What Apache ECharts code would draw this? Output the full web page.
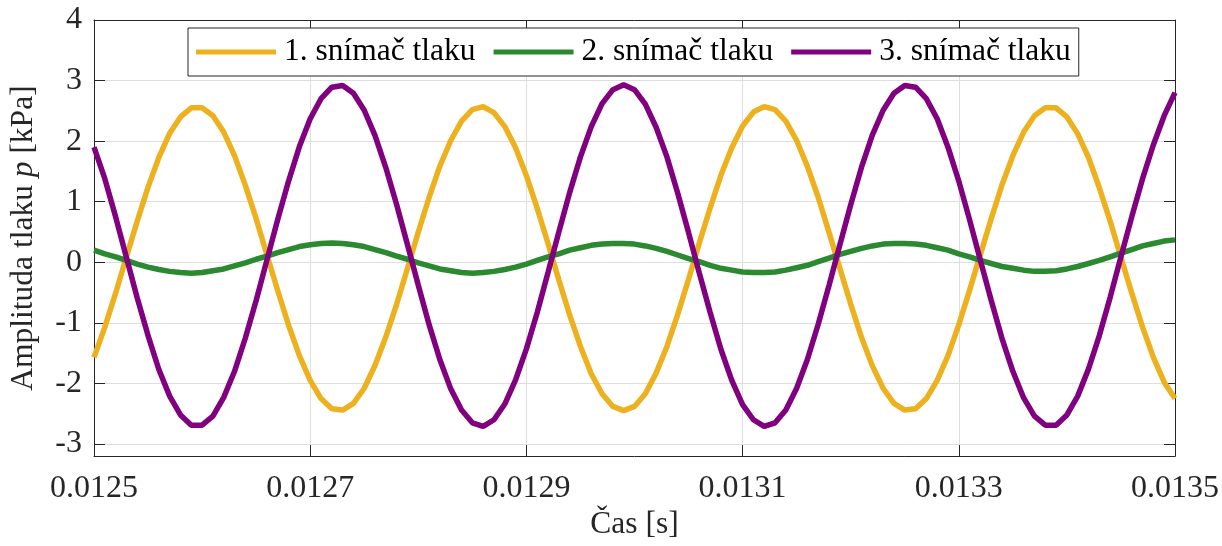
<!DOCTYPE html>
<html>
<head>
<meta charset="utf-8">
<script src="https://cdn.jsdelivr.net/npm/echarts@6/dist/echarts.min.js"></script>
<style>
html,body{margin:0;padding:0;background:#fff;}
#chart{width:1222px;height:546px;}
</style>
</head>
<body>
<div id="chart"></div>
<script>
const seriesNames = ['1. snímač tlaku', '2. snímač tlaku', '3. snímač tlaku'];
const xTickLabels = ['0.0125','0.0127','0.0129','0.0131','0.0133','0.0135'];
const yTickValues = [-3, -2, -1, 0, 1, 2, 3, 4];

const time = [
0.01250,0.01251,0.01252,0.01253,0.01254,0.01255,0.01256,0.01257,0.01258,0.01259,
0.01260,0.01261,0.01262,0.01263,0.01264,0.01265,0.01266,0.01267,0.01268,0.01269,
0.01270,0.01271,0.01272,0.01273,0.01274,0.01275,0.01276,0.01277,0.01278,0.01279,
0.01280,0.01281,0.01282,0.01283,0.01284,0.01285,0.01286,0.01287,0.01288,0.01289,
0.01290,0.01291,0.01292,0.01293,0.01294,0.01295,0.01296,0.01297,0.01298,0.01299,
0.01300,0.01301,0.01302,0.01303,0.01304,0.01305,0.01306,0.01307,0.01308,0.01309,
0.01310,0.01311,0.01312,0.01313,0.01314,0.01315,0.01316,0.01317,0.01318,0.01319,
0.01320,0.01321,0.01322,0.01323,0.01324,0.01325,0.01326,0.01327,0.01328,0.01329,
0.01330,0.01331,0.01332,0.01333,0.01334,0.01335,0.01336,0.01337,0.01338,0.01339,
0.01340,0.01341,0.01342,0.01343,0.01344,0.01345,0.01346,0.01347,0.01348,0.01349,
0.01350];

const sensor1 = [
-1.57,-1.07,-0.51,0.09,0.68,1.24,1.73,2.13,2.40,2.55,
2.55,2.42,2.15,1.76,1.27,0.72,0.12,-0.47,-1.04,-1.54,
-1.95,-2.25,-2.42,-2.44,-2.33,-2.08,-1.70,-1.23,-0.69,-0.10,
0.50,1.07,1.59,2.01,2.33,2.52,2.57,2.47,2.24,1.89,
1.43,0.89,0.31,-0.29,-0.87,-1.39,-1.84,-2.17,-2.38,-2.45,
-2.38,-2.17,-1.83,-1.39,-0.86,-0.28,0.32,0.90,1.44,1.89,
2.25,2.48,2.57,2.52,2.33,2.01,1.58,1.07,0.49,-0.10,
-0.69,-1.24,-1.71,-2.08,-2.33,-2.44,-2.42,-2.25,-1.95,-1.54,
-1.03,-0.46,0.13,0.72,1.28,1.76,2.15,2.42,2.55,2.55,
2.40,2.12,1.73,1.23,0.68,0.08,-0.51,-1.07,-1.57,-1.98,
-2.25];

const sensor2 = [
0.20,0.14,0.09,0.03,-0.03,-0.08,-0.12,-0.15,-0.17,-0.18,
-0.17,-0.14,-0.11,-0.06,-0.01,0.05,0.10,0.16,0.21,0.26,
0.29,0.31,0.32,0.31,0.29,0.26,0.21,0.16,0.10,0.05,
-0.01,-0.06,-0.11,-0.14,-0.17,-0.18,-0.17,-0.15,-0.12,-0.08,
-0.03,0.03,0.09,0.14,0.20,0.24,0.28,0.30,0.31,0.31,
0.30,0.27,0.23,0.18,0.12,0.06,0.01,-0.05,-0.10,-0.13,
-0.16,-0.17,-0.17,-0.16,-0.13,-0.09,-0.05,0.01,0.07,0.13,
0.18,0.23,0.27,0.30,0.31,0.31,0.30,0.28,0.24,0.20,
0.14,0.09,0.03,-0.02,-0.07,-0.10,-0.13,-0.15,-0.15,-0.14,
-0.11,-0.07,-0.02,0.03,0.09,0.15,0.21,0.27,0.31,0.35,
0.37];

const sensor3 = [
1.90,1.38,0.75,0.08,-0.59,-1.21,-1.77,-2.21,-2.52,-2.69,
-2.69,-2.54,-2.23,-1.80,-1.25,-0.63,0.04,0.71,1.34,1.91,
2.37,2.70,2.89,2.92,2.79,2.51,2.09,1.56,0.95,0.29,
-0.38,-1.03,-1.61,-2.09,-2.44,-2.65,-2.71,-2.60,-2.34,-1.94,
-1.43,-0.83,-0.17,0.50,1.15,1.74,2.24,2.62,2.85,2.93,
2.85,2.61,2.23,1.74,1.14,0.49,-0.18,-0.83,-1.44,-1.95,
-2.35,-2.60,-2.71,-2.65,-2.44,-2.08,-1.60,-1.02,-0.38,0.29,
0.95,1.57,2.10,2.51,2.79,2.92,2.89,2.70,2.37,1.90,
1.34,0.70,0.03,-0.63,-1.26,-1.80,-2.24,-2.54,-2.69,-2.69,
-2.52,-2.21,-1.76,-1.21,-0.58,0.09,0.75,1.38,1.94,2.42,
2.80];

const colors = ['#EDB120', '#2B8A30', '#800080'];
const FONT = '"Liberation Serif", "Times New Roman", serif';
const AX = '#262626';

function pairs(ys) { return ys.map((v, i) => [time[i], v]); }

const chart = echarts.init(document.getElementById('chart'), null, {renderer: 'canvas'});

const xCommon = {
  type: 'value', min: 0.0125, max: 0.0135, interval: 0.0002,
  axisLine: {show: true, onZero: false, lineStyle: {color: AX, width: 1}},
  axisTick: {show: true, inside: true, length: 11, lineStyle: {color: AX, width: 1}}
};
const yCommon = {
  type: 'value', min: -3.2, max: 4,
  axisLine: {show: true, onZero: false, lineStyle: {color: AX, width: 1}},
  axisTick: {show: true, inside: true, length: 11, customValues: yTickValues, lineStyle: {color: AX, width: 1}}
};

chart.setOption({
  animation: false,
  color: colors,
  textStyle: {fontFamily: FONT},
  grid: {left: 93, right: 45, top: 20, bottom: 87, containLabel: false},
  legend: {
    data: seriesNames,
    left: 188, top: 28,
    padding: [8, 8, 8, 8],
    itemGap: 18,
    itemWidth: 80, itemHeight: 5,
    icon: 'rect',
    borderColor: AX, borderWidth: 1,
    backgroundColor: '#fff',
    textStyle: {fontFamily: FONT, fontSize: 31.5, color: '#000', padding: [0, 0, 0, 3]}
  },
  xAxis: [
    Object.assign({}, xCommon, {
      position: 'bottom',
      name: 'Čas [s]', nameLocation: 'middle', nameGap: 42,
      nameTextStyle: {fontFamily: FONT, fontSize: 31.5, color: AX},
      axisLabel: {show: true, margin: 16, fontFamily: FONT, fontSize: 32, color: AX,
        formatter: v => { const s = v.toFixed(4); return xTickLabels.indexOf(s) >= 0 ? s : ''; }},
      splitLine: {show: true, lineStyle: {color: '#dedede', width: 1}}
    }),
    Object.assign({}, xCommon, {
      position: 'top', axisLabel: {show: false}, splitLine: {show: false}
    })
  ],
  yAxis: [
    Object.assign({}, yCommon, {
      position: 'left',
      name: 'Amplituda tlaku {i|p} [kPa]', nameLocation: 'middle', nameGap: 54,
      nameTextStyle: {fontFamily: FONT, fontSize: 31.5, color: AX,
        rich: {i: {fontFamily: FONT, fontSize: 31.5, fontStyle: 'italic', color: AX}}},
      axisLabel: {show: true, margin: 12, fontFamily: FONT, fontSize: 32, color: AX,
        customValues: yTickValues,
        formatter: v => String(Math.round(v))},
      splitLine: {show: true, lineStyle: {color: '#dedede', width: 1}}
    }),
    Object.assign({}, yCommon, {
      position: 'right', axisLabel: {show: false}, splitLine: {show: false}
    })
  ],
  series: [
    {name: seriesNames[0], type: 'line', data: pairs(sensor1), showSymbol: false, symbol: 'none',
      lineStyle: {width: 5.5, color: colors[0]}, itemStyle: {color: colors[0]}, z: 3},
    {name: seriesNames[1], type: 'line', data: pairs(sensor2), showSymbol: false, symbol: 'none',
      lineStyle: {width: 5.5, color: colors[1]}, itemStyle: {color: colors[1]}, z: 4},
    {name: seriesNames[2], type: 'line', data: pairs(sensor3), showSymbol: false, symbol: 'none',
      lineStyle: {width: 5.5, color: colors[2]}, itemStyle: {color: colors[2]}, z: 5}
  ]
});
</script>
</body>
</html>
